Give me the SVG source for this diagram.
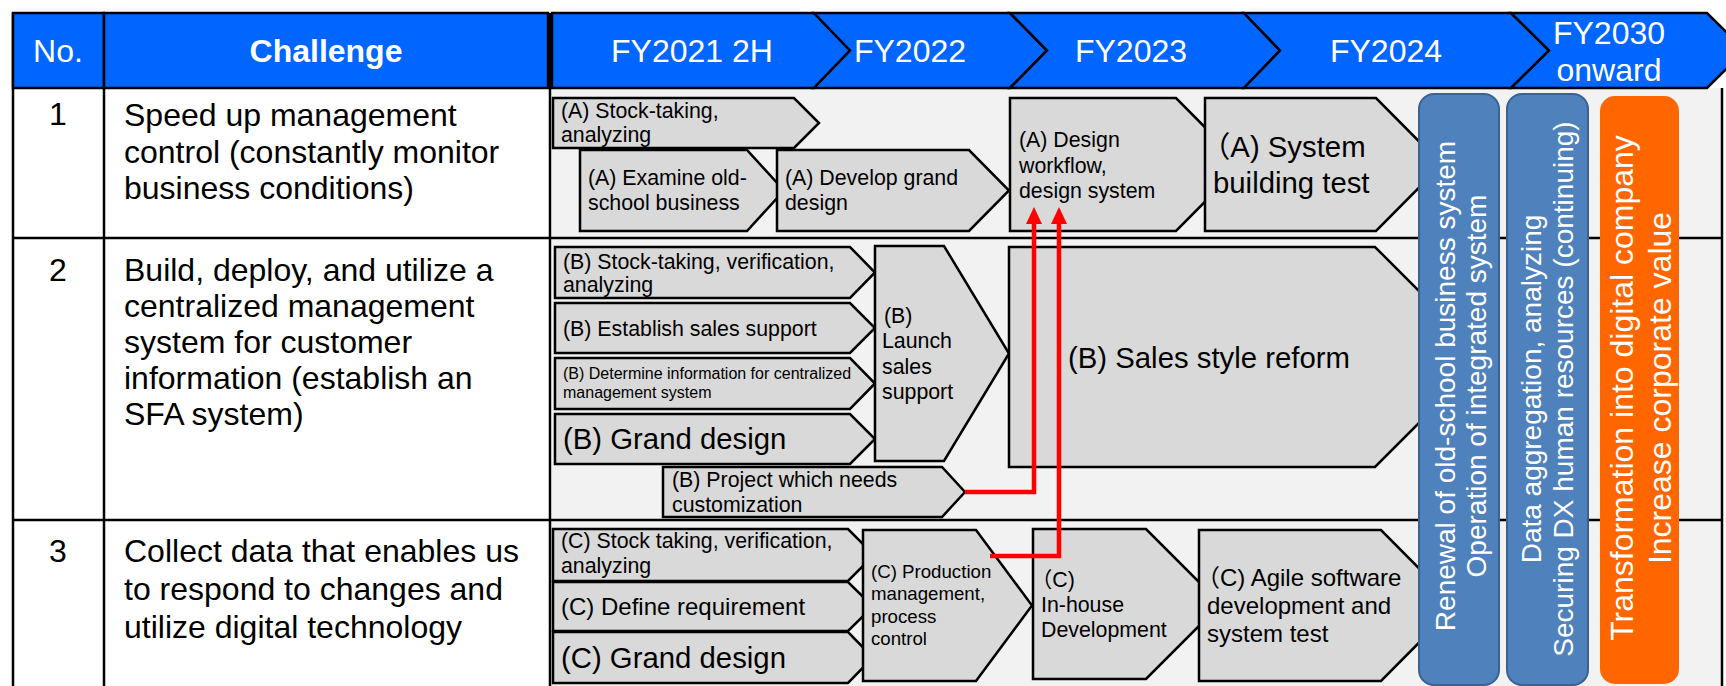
<svg xmlns="http://www.w3.org/2000/svg" width="1726" height="686" viewBox="0 0 1726 686">
<style>
.t{font-family:"Liberation Sans",Arial,"Noto Sans CJK JP",sans-serif;fill:#000}
.w{fill:#fff}
.m{text-anchor:middle}
.b{font-weight:bold}
.f32{font-size:32px}.f29{font-size:29.33px}.f28{font-size:28px}.f24{font-size:24px}.f21{font-size:21.33px}.f18{font-size:18.67px}.f16{font-size:16px}
.hd{fill:#0066ff;stroke:#000;stroke-width:2.5}
.bx{fill:#d9d9d9;stroke:#000;stroke-width:2.5;stroke-linejoin:miter}
.ln{stroke:#000;stroke-width:2.5;fill:none}
.col{fill:#4f81bd;stroke:#3a6190;stroke-width:2}
.org{fill:#ff6600}
.red{fill:none;stroke:#ff0000;stroke-width:4.5;marker-end:url(#arr)}
</style>
<defs>
<marker id="arr" markerUnits="userSpaceOnUse" markerWidth="17" markerHeight="16" refX="0" refY="8" orient="auto">
<path d="M0,0 L17,8 L0,16 Z" fill="#ff0000"/>
</marker>
</defs>
<rect width="1726" height="686" fill="#fff"/>
<g id="table">
<rect x="13" y="88" width="537" height="598" fill="#fff"/>
<rect x="552" y="88" width="1170" height="598" fill="#f2f2f2"/>
<line class="ln" x1="13" y1="238" x2="1722" y2="238"/>
<line class="ln" x1="13" y1="520" x2="1722" y2="520"/>
<line class="ln" x1="13" y1="13" x2="13" y2="686"/>
<line class="ln" x1="104" y1="13" x2="104" y2="686"/>
<line class="ln" x1="550" y1="13" x2="550" y2="686"/>
<line class="ln" x1="1722" y1="88" x2="1722" y2="686"/>
</g>
<g id="header">
<rect class="hd" x="13" y="13" width="91" height="75"/>
<rect class="hd" x="104" y="13" width="444" height="75"/>
<text class="t w m f32" x="58" y="62">No.</text>
<text class="t w m f32 b" x="326" y="62">Challenge</text>
</g>
<g id="fy2021">
<path class="hd" d="M552,13 H814 L850,50.5 L814,88 H552 Z"/>
<text class="t w m f32" x="692" y="62">FY2021 2H</text>
</g>
<g id="fy2022">
<path class="hd" d="M814,13 H1010 L1047,50.5 L1010,88 H814 L850,50.5 Z"/>
<text class="t w m f32" x="910" y="62">FY2022</text>
</g>
<g id="fy2023">
<path class="hd" d="M1010,13 H1244 L1280,50.5 L1244,88 H1010 L1047,50.5 Z"/>
<text class="t w m f32" x="1131" y="62">FY2023</text>
</g>
<g id="fy2024">
<path class="hd" d="M1244,13 H1511 L1549,50.5 L1511,88 H1244 L1280,50.5 Z"/>
<text class="t w m f32" x="1386" y="62">FY2024</text>
</g>
<g id="fy2030">
<path class="hd" d="M1511,13 H1707 L1745,50.5 L1707,88 H1511 L1549,50.5 Z"/>
<text class="t w m f32" x="1609" y="44">FY2030</text>
<text class="t w m f32" x="1609" y="81">onward</text>
</g>
<g id="row1">
<text class="t m f32" x="58" y="125">1</text>
<text class="t f32" x="124" y="126">Speed up management</text>
<text class="t f32" x="124" y="162.5">control (constantly monitor</text>
<text class="t f32" x="124" y="199">business conditions)</text>
</g>
<g id="row2">
<text class="t m f32" x="58" y="281">2</text>
<text class="t f32" x="124" y="281">Build, deploy, and utilize a</text>
<text class="t f32" x="124" y="317">centralized management</text>
<text class="t f32" x="124" y="353">system for customer</text>
<text class="t f32" x="124" y="389">information (establish an</text>
<text class="t f32" x="124" y="425">SFA system)</text>
</g>
<g id="row3">
<text class="t m f32" x="58" y="562">3</text>
<text class="t f32" x="124" y="562">Collect data that enables us</text>
<text class="t f32" x="124" y="600">to respond to changes and</text>
<text class="t f32" x="124" y="638">utilize digital technology</text>
</g>
<g id="a-stock">
<path class="bx" d="M553,98 H794 L819,123 L794,148 H553 Z"/>
<text class="t f21" x="561" y="118">(A) Stock-taking,</text>
<text class="t f21" x="561" y="142">analyzing</text>
</g>
<g id="a-examine">
<path class="bx" d="M580,150 H747 L784,190.5 L747,231 H580 Z"/>
<text class="t f21" x="588" y="185">(A) Examine old-</text>
<text class="t f21" x="588" y="210">school business</text>
</g>
<g id="a-develop">
<path class="bx" d="M777,150 H969 L1009,190.5 L969,231 H777 Z"/>
<text class="t f21" x="785" y="185">(A) Develop grand</text>
<text class="t f21" x="785" y="210">design</text>
</g>
<g id="a-design">
<path class="bx" d="M1010,98 H1176 L1242,164.5 L1176,231 H1010 Z"/>
<text class="t f21" x="1019" y="147">(A) Design</text>
<text class="t f21" x="1019" y="173">workflow,</text>
<text class="t f21" x="1019" y="198">design system</text>
</g>
<g id="a-system">
<path class="bx" d="M1205,98 H1376 L1442,164.5 L1376,231 H1205 Z"/>
<text class="t f29" x="1201" y="157">（A) System</text>
<text class="t f29" x="1213" y="193">building test</text>
</g>
<g id="b-stock">
<path class="bx" d="M555,247 H850 L875,272.5 L850,298 H555 Z"/>
<text class="t f21" x="563" y="269">(B) Stock-taking, verification,</text>
<text class="t f21" x="563" y="292">analyzing</text>
</g>
<g id="b-establish">
<path class="bx" d="M555,303 H850 L875,328 L850,353 H555 Z"/>
<text class="t f21" x="563" y="336">(B) Establish sales support</text>
</g>
<g id="b-determine">
<path class="bx" d="M555,358 H850 L875,383.5 L850,409 H555 Z"/>
<text class="t f16" x="563" y="379">(B) Determine information for centralized</text>
<text class="t f16" x="563" y="398">management system</text>
</g>
<g id="b-grand">
<path class="bx" d="M555,414 H850 L875,439 L850,464 H555 Z"/>
<text class="t f29" x="563" y="449">(B) Grand design</text>
</g>
<g id="b-launch">
<path class="bx" d="M875,246 H944 L1009,353.5 L944,461 H875 Z"/>
<text class="t f21" x="884" y="323">(B)</text>
<text class="t f21" x="882" y="348">Launch</text>
<text class="t f21" x="882" y="374">sales</text>
<text class="t f21" x="882" y="399">support</text>
</g>
<g id="b-sales">
<path class="bx" d="M1009,247 H1375 L1485,357 L1375,467 H1009 Z"/>
<text class="t f29" x="1068" y="368">(B) Sales style reform</text>
</g>
<g id="b-project">
<path class="bx" d="M663,467 H942 L965,492 L942,517 H663 Z"/>
<text class="t f21" x="672" y="487">(B) Project which needs</text>
<text class="t f21" x="672" y="512">customization</text>
</g>
<g id="c-stock">
<path class="bx" d="M553,529 H848 L874,555 L848,581 H553 Z"/>
<text class="t f21" x="561" y="548">(C) Stock taking, verification,</text>
<text class="t f21" x="561" y="573">analyzing</text>
</g>
<g id="c-define">
<path class="bx" d="M553,582 H848 L873,606.5 L848,631 H553 Z"/>
<text class="t f24" x="561" y="615">(C) Define requirement</text>
</g>
<g id="c-grand">
<path class="bx" d="M553,632 H848 L873,657.5 L848,683 H553 Z"/>
<text class="t f29" x="561" y="668">(C) Grand design</text>
</g>
<g id="c-production">
<path class="bx" d="M863,530 H976 L1032,605.5 L976,681 H863 Z"/>
<text class="t f18" x="871" y="578">(C) Production</text>
<text class="t f18" x="871" y="600">management,</text>
<text class="t f18" x="871" y="623">process</text>
<text class="t f18" x="871" y="645">control</text>
</g>
<g id="c-inhouse">
<path class="bx" d="M1033,529 H1146 L1221,604 L1146,679 H1033 Z"/>
<text class="t f21" x="1031" y="587">（C)</text>
<text class="t f21" x="1041" y="612">In-house</text>
<text class="t f21" x="1041" y="637">Development</text>
</g>
<g id="c-agile">
<path class="bx" d="M1199,530 H1381 L1456,605.5 L1381,681 H1199 Z"/>
<text class="t f24" x="1196" y="586">（C) Agile software</text>
<text class="t f24" x="1207" y="614">development and</text>
<text class="t f24" x="1207" y="642">system test</text>
</g>
<g id="col-renewal">
<rect class="col" x="1419" y="94" width="80" height="591" rx="15"/>
<text class="t w m f28" transform="rotate(-90 1455 386)" x="1455" y="386">Renewal of old-school business system</text>
<text class="t w m f28" transform="rotate(-90 1486 386)" x="1486" y="386">Operation of integrated system</text>
</g>
<g id="col-data">
<rect class="col" x="1507" y="94" width="81" height="591" rx="15"/>
<text class="t w m f28" transform="rotate(-90 1541 389)" x="1541" y="389">Data aggregation, analyzing</text>
<text class="t w m f28" transform="rotate(-90 1573 389)" x="1573" y="389">Securing DX human resources (continuing)</text>
</g>
<g id="col-transform">
<rect class="org" x="1600" y="96" width="79" height="588" rx="15"/>
<text class="t w m f32" transform="rotate(-90 1633 388)" x="1633" y="388">Transformation into digital company</text>
<text class="t w m f32" transform="rotate(-90 1671 388)" x="1671" y="388">Increase corporate value</text>
</g>
<g id="connectors">
<path class="red" d="M965,492 H1034 V224"/>
<path class="red" d="M990,556 H1059 V224"/>
</g>
</svg>
